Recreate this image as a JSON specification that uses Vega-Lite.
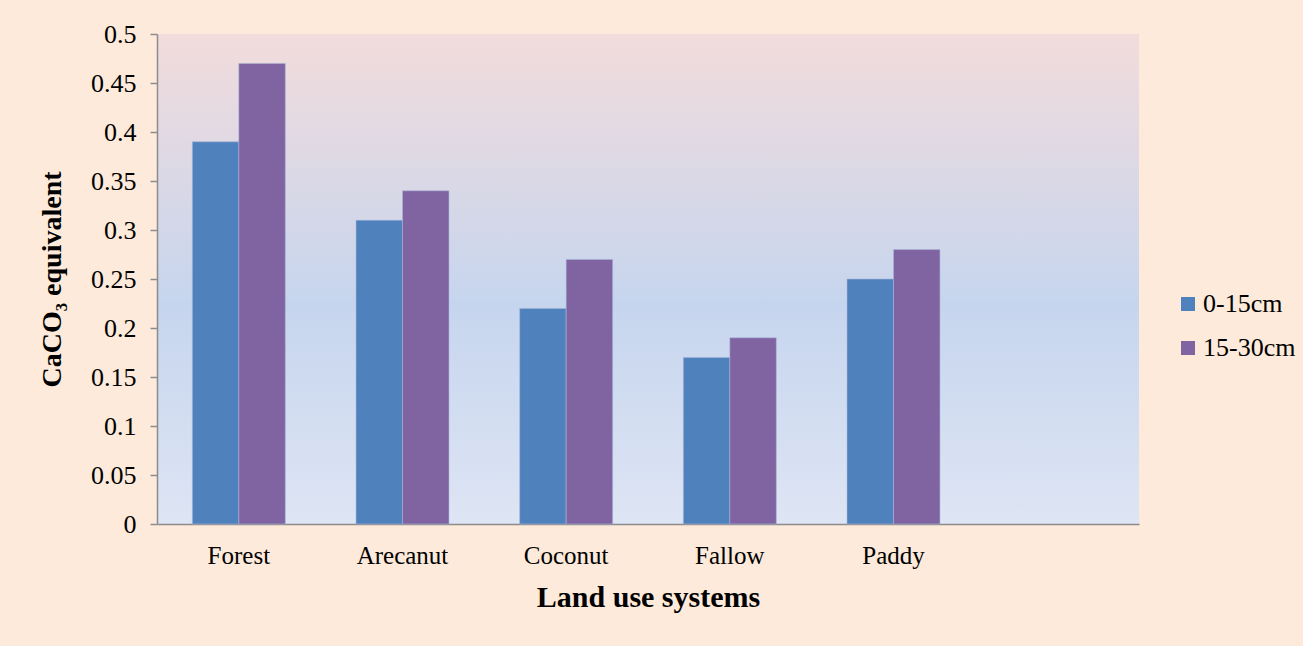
{
  "$schema": "https://vega.github.io/schema/vega-lite/v6.json",
  "autosize": {"type": "none"},
  "padding": {"left": 157, "top": 34, "right": 164, "bottom": 122},
  "width": 982,
  "height": 490,
  "background": "#FDEADA",
  "data": {
    "values": [
      {"system": "Forest", "depth": "0-15cm", "value": 0.39},
      {"system": "Forest", "depth": "15-30cm", "value": 0.47},
      {"system": "Arecanut", "depth": "0-15cm", "value": 0.31},
      {"system": "Arecanut", "depth": "15-30cm", "value": 0.34},
      {"system": "Coconut", "depth": "0-15cm", "value": 0.22},
      {"system": "Coconut", "depth": "15-30cm", "value": 0.27},
      {"system": "Fallow", "depth": "0-15cm", "value": 0.17},
      {"system": "Fallow", "depth": "15-30cm", "value": 0.19},
      {"system": "Paddy", "depth": "0-15cm", "value": 0.25},
      {"system": "Paddy", "depth": "15-30cm", "value": 0.28}
    ]
  },
  "mark": {"type": "bar", "stroke": "#A9B8DA", "strokeWidth": 0.8, "strokeOpacity": 0.7},
  "encoding": {
    "x": {
      "field": "system",
      "type": "nominal",
      "sort": null,
      "scale": {"domain": ["Forest", "Arecanut", "Coconut", "Fallow", "Paddy", " "], "paddingInner": 0.432, "paddingOuter": 0.216},
      "axis": {
        "title": "Land use systems",
        "labelAngle": 0,
        "ticks": false,
        "labelPadding": 19,
        "titlePadding": 14,
        "domainColor": "#8C8C8C",
        "domainWidth": 1.5,
        "labelFont": "Liberation Serif",
        "labelFontSize": 25,
        "labelColor": "#000000",
        "titleFont": "Liberation Serif",
        "titleFontSize": 30,
        "titleFontWeight": "bold",
        "titleColor": "#000000"
      }
    },
    "xOffset": {"field": "depth", "type": "nominal", "scale": {"paddingInner": 0, "paddingOuter": 0}},
    "y": {
      "field": "value",
      "type": "quantitative",
      "scale": {"domain": [0, 0.5], "nice": false},
      "axis": {
        "title": "CaCO₃ equivalent",
        "values": [0, 0.05, 0.1, 0.15, 0.2, 0.25, 0.3, 0.35, 0.4, 0.45, 0.5],
        "format": ".2~f",
        "grid": false,
        "tickSize": 7,
        "tickColor": "#8C8C8C",
        "tickWidth": 1.5,
        "domainColor": "#8C8C8C",
        "domainWidth": 1.5,
        "labelPadding": 14,
        "labelFont": "Liberation Serif",
        "labelFontSize": 26,
        "labelColor": "#000000",
        "titleFont": "Liberation Serif",
        "titleFontSize": 28,
        "titleFontWeight": "bold",
        "titleColor": "#000000",
        "titlePadding": 24
      }
    },
    "color": {
      "field": "depth",
      "type": "nominal",
      "scale": {"domain": ["0-15cm", "15-30cm"], "range": ["#4F81BD", "#8064A2"]},
      "legend": {
        "title": null,
        "orient": "none",
        "legendX": 1018,
        "legendY": 257,
        "symbolType": "square",
        "symbolSize": 196,
        "symbolStrokeWidth": 0,
        "labelFont": "Liberation Serif",
        "labelFontSize": 26,
        "labelColor": "#000000",
        "labelOffset": 2,
        "rowPadding": 18
      }
    }
  },
  "config": {
    "view": {
      "stroke": null,
      "fill": {
        "gradient": "linear",
        "x1": 0, "y1": 0, "x2": 0, "y2": 1,
        "stops": [
          {"offset": 0, "color": "#F2DCDC"},
          {"offset": 0.55, "color": "#C6D5EE"},
          {"offset": 1, "color": "#DEE5F4"}
        ]
      }
    }
  }
}
